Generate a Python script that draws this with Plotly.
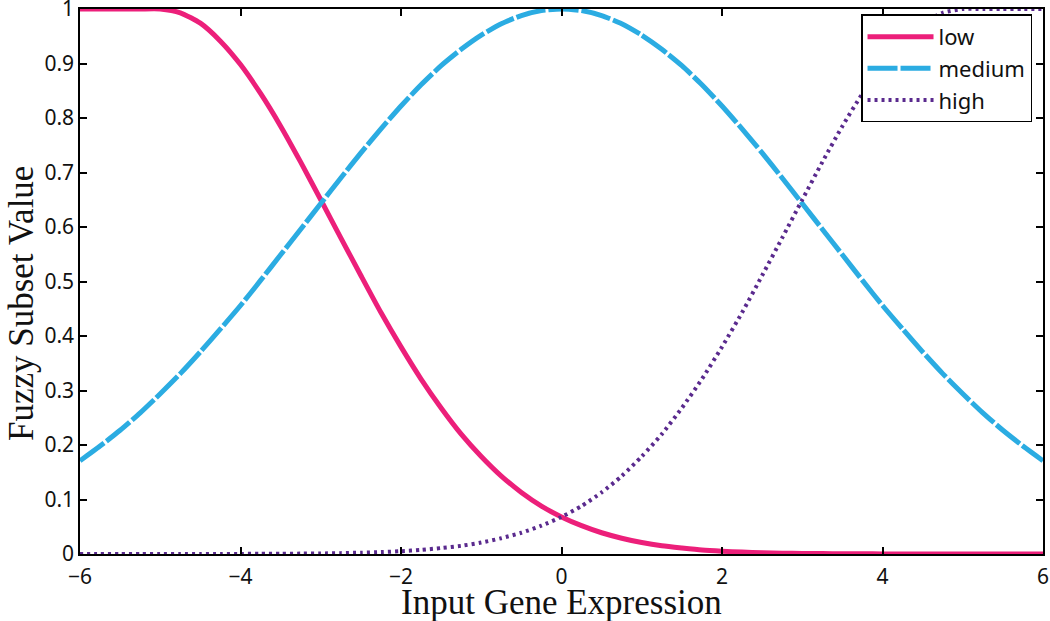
import plotly.graph_objects as go

x_vals = [-6, -5.75, -5.5, -5.25, -5, -4.75, -4.5, -4.25, -4, -3.75, -3.5, -3.25, -3,
          -2.75, -2.5, -2.25, -2, -1.75, -1.5, -1.25, -1, -0.75, -0.5, -0.25, 0,
          0.25, 0.5, 0.75, 1, 1.25, 1.5, 1.75, 2, 2.25, 2.5, 2.75, 3,
          3.25, 3.5, 3.75, 4, 4.25, 4.5, 4.75, 5, 5.25, 5.5, 5.75, 6]

low = [1.0, 1.0, 1.0, 1.0, 1.0, 0.993, 0.974, 0.941, 0.898, 0.845, 0.785, 0.719, 0.650,
       0.580, 0.511, 0.443, 0.380, 0.321, 0.268, 0.220, 0.179, 0.143, 0.113, 0.088, 0.068,
       0.052, 0.039, 0.029, 0.021, 0.015, 0.011, 0.0074, 0.0052, 0.0035, 0.0024, 0.0016, 0.001,
       0.0007, 0.0004, 0.0003, 0.0002, 0.0001, 0.0001, 0.0, 0.0, 0.0, 0.0, 0.0, 0.0]

medium = [0.171, 0.198, 0.227, 0.259, 0.294, 0.331, 0.371, 0.413, 0.456, 0.502, 0.549, 0.596, 0.643,
          0.690, 0.736, 0.780, 0.822, 0.861, 0.896, 0.926, 0.952, 0.973, 0.988, 0.997, 1.0,
          0.997, 0.988, 0.973, 0.952, 0.926, 0.896, 0.861, 0.822, 0.780, 0.736, 0.690, 0.643,
          0.596, 0.549, 0.502, 0.456, 0.413, 0.371, 0.331, 0.294, 0.259, 0.227, 0.198, 0.171]

high = [0.0, 0.0, 0.0, 0.0, 0.0, 0.0, 0.0001, 0.0001, 0.0002, 0.0003, 0.0004, 0.0007, 0.001,
        0.0016, 0.0024, 0.0035, 0.0052, 0.0074, 0.011, 0.015, 0.021, 0.029, 0.039, 0.052, 0.068,
        0.088, 0.113, 0.143, 0.179, 0.220, 0.268, 0.321, 0.380, 0.443, 0.511, 0.580, 0.650,
        0.719, 0.785, 0.845, 0.898, 0.941, 0.974, 0.993, 1.0, 1.0, 1.0, 1.0, 1.0]

x_ticks = [-6, -4, -2, 0, 2, 4, 6]
y_ticks = [0, 0.1, 0.2, 0.3, 0.4, 0.5, 0.6, 0.7, 0.8, 0.9, 1]
y_tick_text = ["0", "0.1", "0.2", "0.3", "0.4", "0.5", "0.6", "0.7", "0.8", "0.9", "1"]

PINK = "#EC1F7A"
BLUE = "#2BACE2"
PURPLE = "#5A2A8E"

fig = go.Figure()
fig.add_trace(go.Scatter(x=x_vals, y=low, name="low", mode="lines",
                         line=dict(color=PINK, width=5, shape="spline", smoothing=0.6)))
fig.add_trace(go.Scatter(x=x_vals, y=medium, name="medium", mode="lines",
                         line=dict(color=BLUE, width=5, shape="spline", smoothing=0.6, dash="30px,3px")))
fig.add_trace(go.Scatter(x=x_vals, y=high, name="high", mode="lines",
                         line=dict(color=PURPLE, width=4, shape="spline", smoothing=0.6, dash="3px,4px")))

axis_common = dict(
    showgrid=False, zeroline=False, automargin=False,
    showline=True, linecolor="black", linewidth=1.5, mirror="ticks",
    ticks="inside", ticklen=7, tickwidth=1.5, tickcolor="black",
    ticklabeloverflow="allow",
    tickfont=dict(family="Noto Sans", size=21, color="#111111"),
)

fig.update_layout(
    width=1050, height=621,
    margin=dict(l=80, r=7, t=9, b=67),
    paper_bgcolor="white", plot_bgcolor="white",
    xaxis=dict(range=[-6, 6], tickvals=x_ticks, ticklabelstandoff=3, **axis_common),
    yaxis=dict(range=[0, 1], tickvals=y_ticks, ticktext=y_tick_text, **axis_common),
    showlegend=True,
    legend=dict(
        x=0.9886, y=0.99, xanchor="right", yanchor="top",
        bgcolor="white", bordercolor="black", borderwidth=1.5,
        font=dict(family="Noto Sans", size=22, color="#111111"),
        tracegroupgap=0, itemwidth=66,
    ),
    annotations=[
        dict(text="Input Gene Expression", xref="paper", yref="paper",
             x=0.5, y=-0.0885, xanchor="center", yanchor="middle", showarrow=False,
             font=dict(family="Liberation Serif", size=35, color="#111111")),
        dict(text="Fuzzy Subset Value", xref="paper", yref="paper",
             x=-0.0605, y=0.46, xanchor="center", yanchor="middle", showarrow=False,
             textangle=-90,
             font=dict(family="Liberation Serif", size=35, color="#111111")),
    ],
)

fig.write_html("out.html", config={"displayModeBar": False},
               post_script="document.body.style.margin='0';document.body.style.overflow='hidden';")
